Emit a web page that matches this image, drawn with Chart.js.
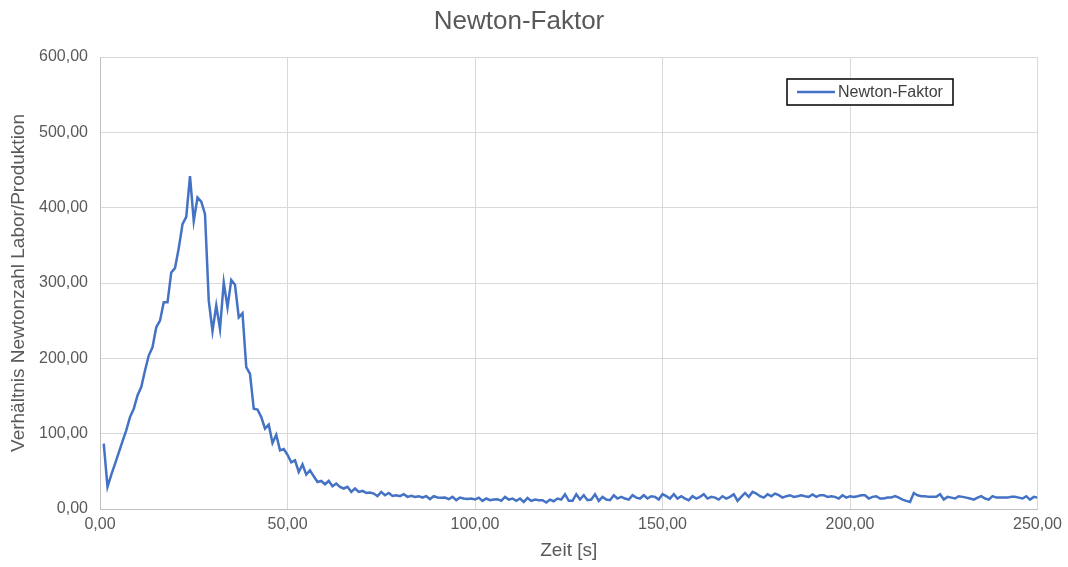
<!DOCTYPE html>
<html lang="de">
<head>
<meta charset="utf-8">
<title>Newton-Faktor</title>
<script src="https://cdn.jsdelivr.net/npm/chart.js@4/dist/chart.umd.min.js"></script>
<style>
    html, body { margin: 0; padding: 0; background: #ffffff; }
    #wrap { width: 1068px; height: 567px; }
</style>
</head>
<body>
<div id="wrap"><canvas id="newtonChart" width="1068" height="567"></canvas></div>
<script>
// Messreihe: Verhältnis der Newtonzahl Labor/Produktion, eine Messung pro Sekunde
const startSecond = 1;
const newtonFactor = [
    86.7, 29.3, 45.2, 59.8, 74.8, 89.8, 104.4, 122.0, 133.0, 150.7,
    161.8, 183.8, 203.7, 214.7, 241.2, 250.0, 274.3, 274.3, 314.0, 319.8,
    346.3, 378.0, 387.8, 442.0, 382.5, 413.4, 408.0, 391.4, 276.6, 236.0,
    270.0, 239.0, 300.8, 267.7, 304.0, 297.7, 254.4, 259.8, 188.3, 179.4,
    133.0, 132.0, 122.0, 106.6, 111.9, 87.6, 98.6, 77.9, 79.6, 72.0,
    62.0, 64.6, 49.2, 59.3, 45.7, 51.4, 43.4, 35.9, 37.2, 32.8,
    37.2, 30.2, 33.8, 29.4, 27.2, 29.4, 22.7, 27.2, 22.7, 24.0,
    21.3, 21.8, 20.5, 17.0, 22.7, 18.3, 21.3, 17.4, 18.3, 17.0,
    19.6, 16.1, 17.4, 16.1, 17.0, 15.2, 17.0, 13.2, 17.0, 15.2,
    14.8, 15.2, 13.2, 16.1, 11.8, 15.2, 13.9, 13.2, 13.9, 12.6,
    15.1, 10.8, 13.9, 11.7, 12.5, 13.0, 10.8, 16.1, 12.5, 13.9,
    10.8, 13.9, 9.4, 14.7, 10.8, 12.5, 11.7, 11.7, 8.6, 12.5,
    10.3, 13.9, 12.5, 19.6, 10.8, 10.8, 19.6, 12.5, 18.3, 11.7,
    12.5, 19.6, 10.8, 16.1, 12.5, 11.7, 18.3, 13.9, 16.1, 13.9,
    12.5, 18.3, 15.1, 13.9, 18.3, 13.9, 17.0, 16.1, 12.5, 19.6,
    17.0, 13.9, 19.6, 13.9, 17.0, 13.9, 11.7, 17.0, 13.9, 16.1,
    19.6, 13.9, 16.1, 15.1, 12.5, 17.0, 13.9, 16.1, 19.6, 10.8,
    16.1, 21.3, 16.1, 22.7, 20.5, 17.0, 15.1, 19.6, 17.0, 20.5,
    18.3, 15.1, 17.0, 18.3, 16.1, 17.0, 18.3, 17.0, 16.1, 19.2,
    16.1, 18.3, 18.3, 16.1, 17.0, 16.1, 13.9, 18.3, 15.1, 17.0,
    16.1, 17.0, 18.3, 18.3, 13.9, 16.1, 17.0, 13.9, 13.9, 15.1,
    15.1, 17.0, 15.1, 12.5, 10.8, 9.4, 21.3, 18.3, 17.0, 17.0,
    16.1, 16.1, 16.1, 19.6, 12.5, 16.1, 15.1, 13.9, 17.0, 16.1,
    15.1, 13.9, 12.5, 15.1, 17.0, 13.9, 12.5, 17.0, 15.1, 15.1,
    15.1, 15.1, 16.1, 16.1, 15.1, 13.9, 17.0, 12.5, 16.1, 15.1
];
const xTicks = [0, 50, 100, 150, 200, 250];
const yTicks = [0, 100, 200, 300, 400, 500, 600];

const seriesName = "Newton-Faktor";
const lineColor = "#4472C4";
const textColor = "#595959";
const fontFamily = "'Liberation Sans', Arial, sans-serif";

const points = newtonFactor.map((v, i) => ({ x: startSecond + i, y: v }));

// Zahlen im deutschen Format mit zwei Nachkommastellen
function fmt(v) {
    return v.toFixed(2).replace(".", ",");
}

// Legende als umrahmtes Kästchen oben rechts im Diagramm
const boxLegend = {
    id: "boxLegend",
    afterDraw(chart) {
        const ctx = chart.ctx;
        const ds = chart.data.datasets[0];
        const x = 787, y = 79, w = 166, h = 26;
        ctx.save();
        ctx.fillStyle = "#ffffff";
        ctx.fillRect(x, y, w, h);
        ctx.strokeStyle = "#000000";
        ctx.lineWidth = 1.5;
        ctx.strokeRect(x, y, w, h);
        ctx.strokeStyle = ds.borderColor;
        ctx.lineWidth = 2.5;
        ctx.beginPath();
        ctx.moveTo(x + 10, y + h / 2);
        ctx.lineTo(x + 48, y + h / 2);
        ctx.stroke();
        ctx.fillStyle = "#404040";
        ctx.font = "16px " + fontFamily;
        ctx.textBaseline = "middle";
        ctx.fillText(ds.label, x + 51, y + h / 2 + 1);
        ctx.restore();
    }
};

new Chart("newtonChart", {
    type: "scatter",
    data: {
        datasets: [
            {
                label: seriesName,
                data: points,
                showLine: true,
                borderColor: lineColor,
                backgroundColor: lineColor,
                borderWidth: 2.5,
                pointRadius: 0,
                tension: 0
            }
        ]
    },
    options: {
        responsive: false,
        animation: false,
        layout: { padding: { left: 0, right: 30, top: 0, bottom: 0 } },
        plugins: {
            legend: { display: false },
            tooltip: { enabled: false },
            title: {
                display: true,
                text: seriesName,
                color: textColor,
                font: { family: fontFamily, size: 26, weight: "normal" },
                padding: { top: 6, bottom: 19.8 }
            }
        },
        scales: {
            x: {
                type: "linear",
                min: 0,
                max: 250,
                afterBuildTicks: (axis) => { axis.ticks = xTicks.map(v => ({ value: v })); },
                afterFit: (axis) => { axis.height = 58; },
                ticks: {
                    color: textColor,
                    font: { family: fontFamily, size: 16 },
                    padding: 6,
                    maxRotation: 0,
                    callback: (v) => fmt(v)
                },
                grid: { color: "#d9d9d9", lineWidth: 1, drawTicks: false },
                border: { color: "#bfbfbf", width: 1 },
                title: {
                    display: true,
                    text: "Zeit [s]",
                    color: textColor,
                    font: { family: fontFamily, size: 19 },
                    padding: { top: 0, bottom: 5 }
                }
            },
            y: {
                min: 0,
                max: 600,
                afterBuildTicks: (axis) => { axis.ticks = yTicks.map(v => ({ value: v })); },
                afterFit: (axis) => { axis.width = 100; },
                ticks: {
                    color: textColor,
                    font: { family: fontFamily, size: 16 },
                    padding: 12,
                    callback: (v) => fmt(v)
                },
                grid: { color: "#d9d9d9", lineWidth: 1, drawTicks: false },
                border: { color: "#bfbfbf", width: 1 },
                title: {
                    display: true,
                    text: "Verhältnis Newtonzahl Labor/Produktion",
                    color: textColor,
                    font: { family: fontFamily, size: 19 },
                    padding: { top: 7, bottom: 0 }
                }
            }
        }
    },
    plugins: [boxLegend]
});
</script>
</body>
</html>
